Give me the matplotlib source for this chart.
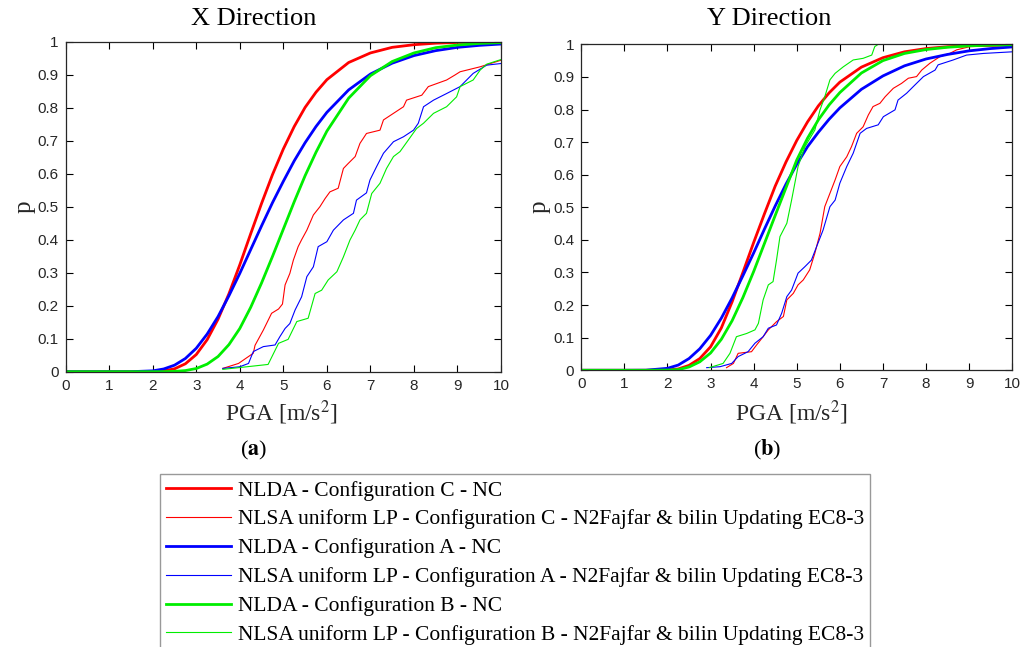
import matplotlib
matplotlib.use("Agg")
import matplotlib.pyplot as plt
from matplotlib.lines import Line2D

# PGA grid used for the NLDA fragility curves
pga_fit = [0, 1, 1.5, 2, 2.25, 2.5, 2.75, 3, 3.25, 3.5, 3.75, 4, 4.25, 4.5, 4.75,
           5, 5.25, 5.5, 5.75, 6, 6.5, 7, 7.5, 8, 8.5, 9, 9.5, 10]

# ---- X direction ----
x_nlda_c = [0, 0, 0, 0.0005, 0.0026, 0.0087, 0.024, 0.052, 0.097, 0.159, 0.236, 0.324, 0.418, 0.510,
            0.597, 0.675, 0.743, 0.801, 0.847, 0.885, 0.937, 0.966, 0.983, 0.991, 0.9956, 0.9978,
            0.9989, 0.9995]
x_nlda_a = [0, 0, 0.0001, 0.0026, 0.0082, 0.0197, 0.040, 0.071, 0.114, 0.167, 0.230, 0.298, 0.370,
            0.442, 0.512, 0.577, 0.639, 0.694, 0.743, 0.786, 0.854, 0.902, 0.935, 0.958, 0.973,
            0.983, 0.989, 0.993]
x_nlda_b = [0, 0, 0, 0, 0.0002, 0.0009, 0.0034, 0.0096, 0.023, 0.046, 0.082, 0.131, 0.195, 0.269,
            0.349, 0.432, 0.515, 0.594, 0.665, 0.729, 0.829, 0.897, 0.940, 0.966, 0.982, 0.990,
            0.9948, 0.9973]

x_nlsa_c_pga = [3.61, 3.97, 4.31, 4.35, 4.54, 4.73, 4.89, 4.98, 5.04, 5.15, 5.23, 5.34, 5.42, 5.54,
                5.69, 5.84, 5.96, 6.07, 6.26, 6.38, 6.49, 6.65, 6.76, 6.91, 7.22, 7.30, 7.53, 7.76,
                7.83, 8.18, 8.33, 8.75, 8.94, 9.06, 9.52, 10.0]
x_nlsa_c_p = [0.010, 0.025, 0.056, 0.080, 0.126, 0.177, 0.190, 0.205, 0.263, 0.298, 0.338, 0.379,
              0.400, 0.429, 0.475, 0.500, 0.525, 0.545, 0.556, 0.616, 0.631, 0.652, 0.692, 0.722,
              0.732, 0.763, 0.783, 0.803, 0.823, 0.838, 0.864, 0.884, 0.899, 0.909, 0.924, 0.944]

x_nlsa_a_pga = [3.61, 4.00, 4.20, 4.31, 4.54, 4.81, 4.92, 5.04, 5.15, 5.27, 5.42, 5.54, 5.69, 5.80,
                6.00, 6.15, 6.38, 6.61, 6.68, 6.91, 6.99, 7.14, 7.30, 7.53, 7.76, 7.99, 8.10, 8.22,
                8.45, 8.75, 9.06, 9.36, 9.67, 10.0]
x_nlsa_a_p = [0.010, 0.015, 0.025, 0.061, 0.076, 0.081, 0.106, 0.131, 0.146, 0.187, 0.227, 0.288,
              0.318, 0.379, 0.394, 0.429, 0.460, 0.480, 0.520, 0.542, 0.581, 0.621, 0.662, 0.697,
              0.712, 0.732, 0.753, 0.803, 0.823, 0.843, 0.864, 0.904, 0.929, 0.934]

x_nlsa_b_pga = [3.61, 4.65, 4.89, 5.11, 5.31, 5.57, 5.73, 5.88, 6.03, 6.23, 6.38, 6.53, 6.65, 6.76,
                6.91, 7.03, 7.22, 7.37, 7.53, 7.68, 7.87, 8.06, 8.22, 8.45, 8.75, 8.98, 9.06, 9.36,
                9.52, 9.67, 10.0]
x_nlsa_b_p = [0.007, 0.022, 0.086, 0.098, 0.152, 0.162, 0.237, 0.247, 0.278, 0.303, 0.348, 0.399,
              0.429, 0.460, 0.480, 0.540, 0.571, 0.616, 0.652, 0.667, 0.702, 0.737, 0.753, 0.783,
              0.803, 0.833, 0.864, 0.884, 0.914, 0.932, 0.946]

# ---- Y direction ----
y_nlda_c = [0, 0, 0, 0.001, 0.004, 0.015, 0.036, 0.072, 0.130, 0.210, 0.300, 0.392, 0.480, 0.565,
            0.639, 0.705, 0.762, 0.811, 0.851, 0.884, 0.930, 0.959, 0.977, 0.987, 0.9926, 0.9959,
            0.9976, 0.9987]
y_nlda_a = [0, 0, 0.0003, 0.006, 0.016, 0.036, 0.066, 0.107, 0.160, 0.222, 0.290, 0.360, 0.433, 0.504,
            0.571, 0.632, 0.686, 0.730, 0.770, 0.805, 0.862, 0.903, 0.934, 0.955, 0.969, 0.980,
            0.987, 0.992]
y_nlda_b = [0, 0, 0, 0.0007, 0.002, 0.010, 0.026, 0.053, 0.095, 0.152, 0.223, 0.303, 0.389, 0.475,
            0.560, 0.645, 0.712, 0.768, 0.814, 0.852, 0.912, 0.950, 0.972, 0.984, 0.991, 0.9953,
            0.9974, 0.9987]

y_nlsa_c_pga = [3.37, 3.53, 3.64, 3.76, 3.95, 4.07, 4.22, 4.34, 4.53, 4.69, 4.77, 4.92, 5.03, 5.15,
                5.30, 5.42, 5.54, 5.65, 5.77, 5.89, 6.00, 6.16, 6.27, 6.39, 6.54, 6.66, 6.77, 6.93,
                7.05, 7.24, 7.43, 7.59, 7.78, 7.90, 8.09, 8.32, 8.55, 8.71, 9.02, 10.0]
y_nlsa_c_p = [0.008, 0.021, 0.052, 0.054, 0.057, 0.078, 0.103, 0.124, 0.149, 0.165, 0.216, 0.236,
              0.262, 0.277, 0.308, 0.359, 0.420, 0.502, 0.543, 0.584, 0.625, 0.655, 0.686, 0.727,
              0.747, 0.783, 0.809, 0.819, 0.839, 0.865, 0.880, 0.896, 0.901, 0.921, 0.942, 0.962,
              0.972, 0.983, 0.993, 0.996]

y_nlsa_a_pga = [2.91, 3.22, 3.49, 3.64, 3.87, 4.03, 4.22, 4.34, 4.53, 4.65, 4.77, 4.88, 5.03, 5.19,
                5.34, 5.46, 5.61, 5.77, 5.89, 6.00, 6.16, 6.31, 6.47, 6.62, 6.89, 7.01, 7.28, 7.35,
                7.55, 7.74, 7.94, 8.21, 8.28, 8.63, 8.94, 9.33, 10.0]
y_nlsa_a_p = [0.008, 0.011, 0.021, 0.042, 0.057, 0.083, 0.103, 0.129, 0.139, 0.175, 0.226, 0.246,
              0.298, 0.318, 0.338, 0.379, 0.430, 0.502, 0.522, 0.574, 0.625, 0.666, 0.727, 0.742,
              0.753, 0.778, 0.799, 0.829, 0.850, 0.875, 0.901, 0.921, 0.937, 0.952, 0.967, 0.972,
              0.977]

y_nlsa_b_pga = [2.97, 3.29, 3.45, 3.60, 3.84, 4.03, 4.11, 4.22, 4.34, 4.45, 4.53, 4.61, 4.77, 4.88,
                5.03, 5.19, 5.42, 5.54, 5.65, 5.77, 5.89, 6.08, 6.31, 6.54, 6.74, 6.81, 6.89]
y_nlsa_b_p = [0.008, 0.021, 0.052, 0.103, 0.113, 0.124, 0.144, 0.216, 0.262, 0.272, 0.338, 0.410,
              0.451, 0.522, 0.625, 0.686, 0.737, 0.799, 0.839, 0.891, 0.911, 0.931, 0.952, 0.957,
              0.967, 0.993, 1.0]

legend_labels = [
    "NLDA - Configuration C - NC",
    "NLSA uniform LP - Configuration C - N2Fajfar & bilin Updating EC8-3",
    "NLDA - Configuration A - NC",
    "NLSA uniform LP - Configuration A - N2Fajfar & bilin Updating EC8-3",
    "NLDA - Configuration B - NC",
    "NLSA uniform LP - Configuration B - N2Fajfar & bilin Updating EC8-3",
]
colors = ["#ff0000", "#ff0000", "#0000ff", "#0000ff", "#00ee00", "#00ee00"]
widths = [2.0, 0.8, 2.0, 0.8, 2.0, 0.8]

serif = "Liberation Serif"
sans = "Liberation Sans"

fig = plt.figure(figsize=(10.29, 6.47), dpi=100)
ax1 = fig.add_axes([0.0638, 0.4255, 0.4231, 0.5100])
ax2 = fig.add_axes([0.5649, 0.4277, 0.4188, 0.5038])

panels = [
    (ax1, [(pga_fit, x_nlda_c), (x_nlsa_c_pga, x_nlsa_c_p), (pga_fit, x_nlda_a),
           (x_nlsa_a_pga, x_nlsa_a_p), (pga_fit, x_nlda_b), (x_nlsa_b_pga, x_nlsa_b_p)]),
    (ax2, [(pga_fit, y_nlda_c), (y_nlsa_c_pga, y_nlsa_c_p), (pga_fit, y_nlda_a),
           (y_nlsa_a_pga, y_nlsa_a_p), (pga_fit, y_nlda_b), (y_nlsa_b_pga, y_nlsa_b_p)]),
]

for ax, series in panels:
    for (xs, ys), c, lw in zip(series, colors, widths):
        ax.plot(xs, ys, color=c, lw=lw, solid_joinstyle="round")
    ax.set_xlim(0, 10)
    ax.set_ylim(0, 1)
    ax.set_xticks(range(0, 11))
    ax.set_yticks([i / 10 for i in range(11)])
    ax.set_yticklabels(["0", "0.1", "0.2", "0.3", "0.4", "0.5", "0.6", "0.7", "0.8", "0.9", "1"])
    ax.tick_params(direction="in", top=True, right=True, length=5, width=0.8,
                   labelsize=11, labelcolor="#262626", pad=5)
    for lab in ax.get_xticklabels() + ax.get_yticklabels():
        lab.set_family(sans)
    for sp in ax.spines.values():
        sp.set_linewidth(0.9)
        sp.set_color("#262626")

# titles, axis labels and sub-captions
fig.text(254 / 1029, 1 - 19 / 647, "X Direction", ha="center", va="center", family=serif, fontsize=19)
fig.text(769 / 1029, 1 - 19 / 647, "Y Direction", ha="center", va="center", family=serif, fontsize=19)
for xp in (25, 540):
    fig.text(xp / 1029, 1 - 207 / 647, "p", ha="center", va="center", rotation=90,
             family=serif, fontsize=18, color="#262626")
for xp in (282, 792):
    fig.text(xp / 1029, 1 - 413 / 647, r"PGA [m/s$^2$]", ha="center", va="center",
             family=serif, fontsize=17, color="#262626", math_fontfamily="stix")
for xp, lab in ((254, "a"), (767, "b")):
    fig.text(xp / 1029, 1 - 450 / 647, "(" + r"$\mathbf{" + lab + "}$" + ")", ha="center",
             va="center", family=serif, fontsize=16, math_fontfamily="stix")

handles = [Line2D([0], [0], color=c, lw=lw) for c, lw in zip(colors, widths)]
leg = fig.legend(handles, legend_labels, loc="upper left",
                 bbox_to_anchor=(160 / 1029, 1 - 474 / 647),
                 prop={"family": serif, "size": 15.5}, frameon=True, fancybox=False,
                 handlelength=3.0, handletextpad=0.3, labelspacing=0.41,
                 borderaxespad=0, borderpad=0.3, edgecolor="#808080")
leg.get_frame().set_linewidth(1.0)

fig.savefig("out.png", dpi=100)
